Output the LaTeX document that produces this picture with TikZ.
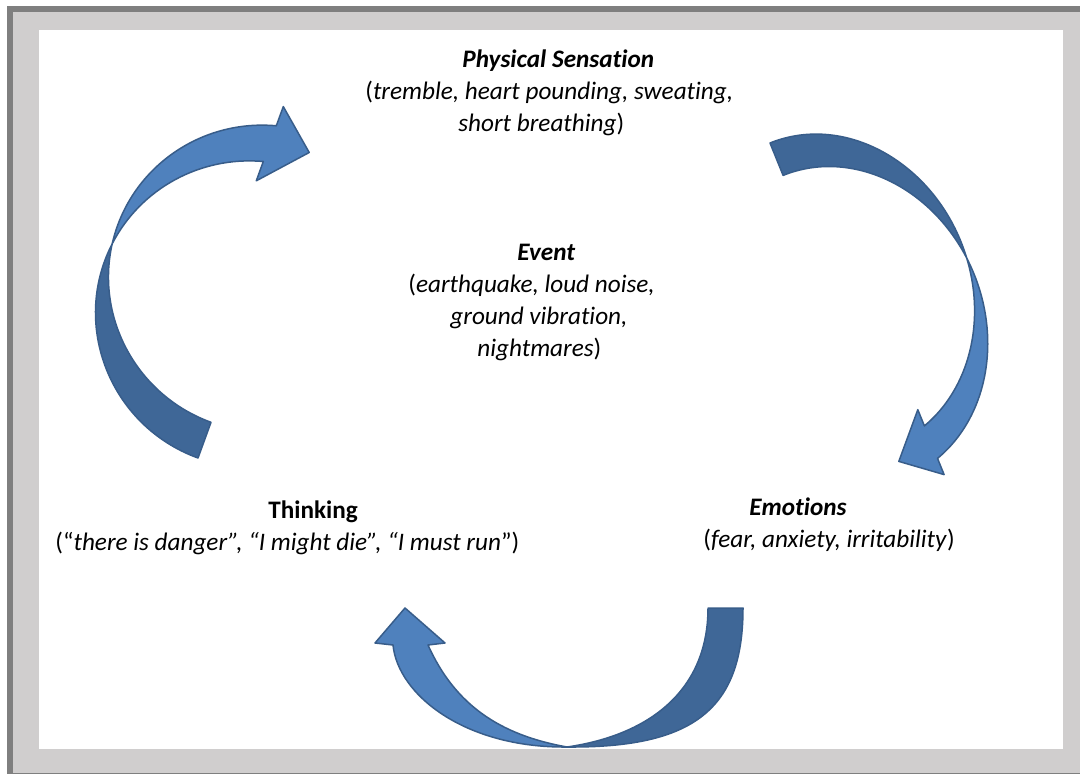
\documentclass[tikz,border=0pt]{standalone}
\usepackage{fontspec}
\setmainfont{Carlito}[Ligatures={NoCommon,NoContextual}]
\definecolor{arrowfront}{HTML}{4F81BD}
\definecolor{arrowback}{HTML}{3F6797}
\definecolor{arrowline}{HTML}{385D8A}
\definecolor{frameband}{HTML}{D0CECE}
\definecolor{frameedge}{HTML}{7F7F7F}

\begin{document}
\begin{tikzpicture}[
	x=0.5pt, y=-0.5pt,
	frontface/.style={fill=arrowfront, draw=arrowline, line width=0.75pt, line join=round},
	backface/.style={fill=arrowback, draw=arrowline, line width=0.75pt, line join=round},
	textblock/.style={inner sep=0pt, anchor=north west, align=left,
		font=\fontsize{12.6}{16}\selectfont}]
\useasboundingbox (0,0) rectangle (1080,774);
\fill[white] (0,0) rectangle (1080,774);
\fill[frameedge] (7,6) rectangle (1090,790);
\fill[frameband] (13,12) rectangle (1090,773);
\fill[white] (39,30) rectangle (1063,749);

\path[backface] (198,458) .. controls (110.5,426.2) and (70.2,325.6) .. (112.2,243.8)
	.. controls (95.2,318.8) and (137.6,395.6) .. (211,422.3) -- cycle;
\path[frontface] (112.2,243.8) .. controls (129.1,169.2) and (199.4,118.8) .. (276.3,125.8)
	-- (283.3,106.6) -- (309.2,152.5) -- (256.3,180.8) -- (263.3,161.5)
	.. controls (200.6,155.9) and (140.7,188.4) .. (112.2,243.8) -- cycle;

\path[backface] (770,143) .. controls (847.2,111.8) and (938.8,165.5) .. (966.7,258.1)
	.. controls (928.5,184.3) and (849.4,148.6) .. (783.1,175.4) -- cycle;
\path[frontface] (966.7,258.1) .. controls (1003.4,329.1) and (991.1,413.9) .. (937.5,458.4)
	-- (944.1,474.6) -- (898.8,461.4) -- (917.8,409.7) -- (924.4,425.9)
	.. controls (969.1,388.7) and (986,322.2) .. (966.7,258.1) -- cycle;

\path[backface] (743,608) .. controls (743,709) and (694,748) .. (567,747)
	.. controls (650,735) and (708,690) .. (708,608) -- cycle;
\path[frontface] (567,747) .. controls (465,748) and (398,695) .. (393,645)
	-- (375,643) -- (405,608) -- (445,643) -- (428,645)
	.. controls (455,705) and (500,735) .. (567,747) -- cycle;

\node[textblock] (sensation) at (365,44.6)
	{\hspace*{48.5pt}\strut\textbf{\textit{Physical Sensation}}\\
	(\textit{tremble, heart pounding, sweating,}\\
	\hspace*{46.5pt}\textit{short breathing})};
\node[textblock] (event) at (408,237.6)
	{\hspace*{54.5pt}\strut\textbf{\textit{Event}}\\
	(\textit{earthquake, loud noise,}\\
	\hspace*{21pt}\textit{ground vibration,}\\
	\hspace*{34.5pt}\textit{nightmares})};
\node[textblock] (thinking) at (55,495.6)
	{\hspace*{106.5pt}\strut\textbf{Thinking}\\
	(“\textit{there is danger”, “I might die”, “I must run}”)};
\node[textblock] (emotions) at (703,492.6)
	{\hspace*{23pt}\strut\textbf{\textit{Emotions}}\\
	(\textit{fear, anxiety, irritability})};
\end{tikzpicture}
\end{document}
